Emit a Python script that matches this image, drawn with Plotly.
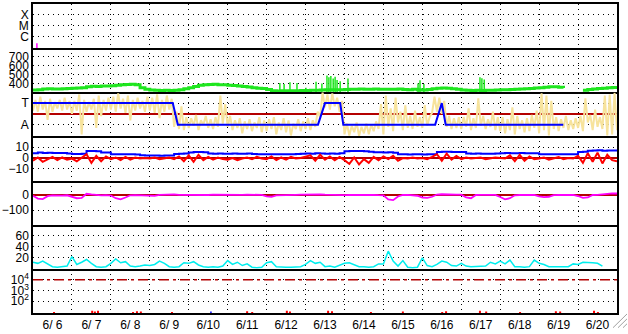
import plotly.graph_objects as go
from plotly.subplots import make_subplots

# ---------------- data ----------------
N_DAYS = 15
STEP_H = 3                      # sample spacing of the series, hours
day_labels = ["6/ 6", "6/ 7", "6/ 8", "6/ 9", "6/10", "6/11", "6/12", "6/13",
              "6/14", "6/15", "6/16", "6/17", "6/18", "6/19", "6/20"]

# X-ray flare events (day, peak flux W/m2)
flare_t = [0.10]
flare_flux = [2.3e-7]
flare_levels = [1e-6, 1e-5, 1e-4]
flare_names = ["C", "M", "X"]

# solar wind speed (km/s), every 3 h
speed = [325, 330, 338, 340, 336, 338, 340, 342,
         345, 348, 352, 362, 368, 366, 370, 372,
         375, 380, 386, 388, 390, 384, 352, 335,
         325, 322, 320, 322, 320, 324, 330, 340,
         352, 366, 380, 386, 388, 390, 386, 384,
         380, 376, 372, 366, 360, 352, 346, 342,
         332, 318, 315, 316, 318, 318, 316, 320,
         320, 322, 324, 326, 328, 330, 330, 330,
         332, 334, 335, 336, 333, 335, 336, 334,
         334, 335, 333, 336, 332, 330, 333, 330,
         326, 332, 340, 346, 348, 346, 340, 334,
         326, 322, 320, 322, 320, 322, 324, 326,
         328, 330, 332, 334, 336, 340, 344, 348,
         352, 358, 364, 362, 356, 348, None, None,
         None, 324, 332, 338, 342, 346, 350, 354,
         358]
speed_spike_t = [6.34, 6.45, 6.60, 6.78, 7.01, 7.27, 7.42, 7.55, 7.60, 7.65, 7.71,
                 7.76, 7.81, 7.89, 8.09, 9.89, 9.94, 10.04, 11.48, 11.53, 11.59]
speed_spike_v = [405, 395, 415, 405, 350, 418, 400, 489, 470, 485, 455,
                 475, 440, 425, 455, 400, 435, 395, 470, 460, 445]
speed_ticks = [400, 500, 600, 700]

# magnetic sector / polarity scatter (low, high per 3 h), T = 1, A = -1
pol_lo = [0.3, 0.2, 0.4, -0.55, 0.2, 0.5, 0.3, 0.4,
          0.0, 0.3, -1.9, 0.2, 0.4, -1.3, -0.2, 0.3,
          0.4, 0.2, 0.5, 0.1, -0.6, 0.3, 0.5, 0.2,
          0.3, 0.1, -0.4, 0.2, 0.4, -1.2, -1.4, -1.5,
          -1.3, -1.1, -1.5, -1.0, -1.3, -1.4, -1.2, -0.9,
          -1.2, -1.5, -1.3, -1.8, -1.4, -1.6, -1.3, -1.7,
          -1.6, -1.4, -1.9, -1.5, -1.7, -2.0, -1.4, -1.6,
          -1.4, -1.5, -1.2, -0.3, 0.6, 0.4, 0.7, 0.2,
          -1.9, -2.0, -1.7, -2.05, -1.8, -1.9, -1.6, -1.4,
          -1.9, -1.2, -1.6, -0.8, -1.5, -1.3, -1.4, -1.2,
          -1.3, -1.1, 0.1, 0.2, 0.0, -1.2, -1.4, -1.3,
          -1.4, -1.2, -1.5, -1.3, -1.1, -1.4, -1.2, -1.5,
          -1.6, -1.8, -1.5, -1.9, -1.4, -1.7, -1.6, -1.3,
          -1.8, -1.5, -2.0, -1.4, -1.6, -1.3, -1.5, -1.4,
          -1.3, -1.6, -0.8, -1.5, -1.2, -1.4, -2.0, -1.9,
          -1.5]
pol_hi = [1.3, 1.6, 1.2, 1.4, 1.1, 1.3, 1.5, 1.2,
          1.2, 1.8, 1.3, 1.1, 1.4, 1.7, 1.3, 1.5,
          1.6, 1.9, 1.4, 1.7, 1.3, 1.5, 1.2, 1.6,
          1.5, 1.8, 1.3, 1.7, 1.4, 0.2, 0.7, -0.3,
          -0.4, -0.1, -0.6, -0.2, -0.5, -0.3, 1.7, 0.9,
          -0.2, -0.6, -0.4, -0.7, -0.5, -0.8, -0.3, -0.6,
          -0.5, -0.3, -0.8, -0.4, -0.6, -0.9, -0.5, -0.7,
          -0.4, -0.6, 0.2, 2.0, 1.8, 1.9, 1.5, 1.2,
          -0.9, -1.1, -0.8, -1.2, -0.9, -1.0, -0.7, 0.9,
          1.7, 0.5, 1.5, 0.2, 0.8, -0.2, 0.3, -0.3,
          0.8, -0.3, 1.6, 1.5, 1.2, -0.2, -0.4, -0.3,
          -0.3, 0.5, -0.4, 1.45, -0.2, -0.5, 0.2, -0.3,
          -0.3, -0.5, 0.6, -0.2, -0.6, -0.4, -0.1, 0.3,
          1.9, 1.7, 1.2, -0.3, -0.5, -0.2, -0.6, -0.4,
          -0.2, 1.45, -0.1, 0.4, -0.3, 1.7, 1.8, 1.95,
          2.0]
# sector status line (day, value)
sector_t = [0.0, 3.59, 3.72, 7.32, 7.50, 7.89, 7.97, 10.33, 10.50, 10.60, 13.62]
sector_v = [1, 1, -1, -1, 1, 1, -1, -1, 1, -1, -1]
sector_names = ["A", "T"]
sector_ticks = [-1, 1]

# IMF Bt and Bz (nT), every 3 h
bt = [4.5, 5.0, 4.7, 4.8, 4.7, 4.7, 4.7, 4.2,
      3.8, 3.7, 4.0, 6.4, 6.6, 6.2, 5.2, 5.0,
      3.6, 3.5, 3.4, 3.5, 3.4, 3.3, 2.5, 2.3,
      2.4, 2.3, 2.2, 2.4, 2.3, 3.8, 4.0, 4.2,
      5.2, 5.6, 5.5, 5.4, 4.2, 4.0, 4.1, 4.0,
      4.0, 4.1, 3.9, 4.0, 4.2, 3.8, 3.6, 3.5,
      3.5, 3.4, 3.6, 3.5, 3.4, 3.6, 3.8, 4.0,
      4.2, 4.0, 4.3, 4.2, 4.0, 4.1, 4.0, 4.3,
      6.2, 6.5, 6.4, 6.6, 6.3, 5.8, 5.3, 5.4,
      5.2, 5.3, 4.8, 3.5, 3.4, 3.3, 3.4, 3.5,
      3.3, 3.4, 3.5, 5.6, 5.8, 5.7, 5.5, 5.6,
      5.5, 4.2, 4.0, 4.1, 4.0, 3.9, 4.0, 4.2,
      4.5, 4.6, 4.4, 4.5, 4.6, 4.4, 4.5, 4.4,
      3.5, 3.4, 3.6, 3.5, 3.4, 3.5, 3.6, 3.5,
      5.6, 5.8, 6.8, 7.0, 7.2, 6.8, 7.0, 6.9,
      6.8]
bz = [-2.5, 0.5, -3.5, -1.0, 1.0, -2.0, 0.5, -1.5,
      -0.5, -3.0, 0.0, 3.5, -4.5, 2.0, -3.0, 1.5,
      -1.0, 0.5, -2.0, 1.0, -1.5, 0.5, -0.5, 0.0,
      -0.5, 0.5, -1.0, 0.0, 0.5, -1.0, 1.5, -3.0,
      2.5, -3.5, 3.0, -2.0, 1.0, -1.5, 0.5, -1.0,
      -1.5, 0.0, -2.0, -0.5, 0.5, -1.0, 1.0, -0.5,
      -1.0, 1.5, -2.0, 0.5, -1.5, 1.0, -0.5, 0.0,
      1.0, 2.5, -2.5, 3.0, -1.5, 1.5, -2.0, 1.0,
      -2.0, -5.5, 0.5, -6.0, -1.0, -4.5, 1.0, -2.0,
      1.5, -1.0, 2.0, -2.5, 0.0, -0.5, 0.5, -0.5,
      0.0, -1.0, 1.0, 3.5, -2.5, 4.0, -1.5, 2.0,
      -1.0, 0.5, -0.5, 0.0, 0.5, -1.0, 0.0, 0.5,
      0.0, -0.5, 2.5, -3.0, 3.0, -2.5, 1.5, -1.0,
      -0.5, 0.5, -1.5, 0.0, 1.0, -1.0, 0.0, -0.5,
      2.0, -4.5, 4.5, -3.5, 5.0, -5.0, 3.0, -2.0,
      -3.0]
b_ticks = [-10, 0, 10]

# Dst index (nT), every 3 h
dst = [-3, -22, -26, -6, 0, -2, -2, 0,
       -8, -20, -18, 10, 6, 2, 0, 1,
       -2, -20, -27, -15, 0, 1, 0, 0,
       -5, -4, 3, 5, 7, 6, 3, 2,
       2, 3, 4, 3, 2, 4, 3, 2,
       3, 2, 1, 3, 4, 2, 1, 3,
       -8, -10, 0, 2, 3, 2, 3, 4,
       5, 3, 8, 6, 4, 2, 3, 2,
       1, 2, 0, 3, 2, 4, 3, 1,
       0, -28, -33, -8, 2, 3, 2, -3,
       -15, -18, -10, 5, 7, 8, 6, 5,
       4, -15, -20, 2, 3, 3, 2, 3,
       -12, -27, -20, 0, 2, 2, 1, 2,
       -8, -13, -10, 1, 2, 2, 1, 2,
       -5, -18, -15, 2, 3, 8, 12, 13,
       12]
dst_ticks = [-100, 0]

# Ap-like activity index, every 3 h
ap = [12, 10, 14, 9, 4, 3, 4, 5,
      22, 8, 12, 17, 10, 4, 3, 4,
      10, 18, 11, 13, 5, 4, 5, 7,
      6, 8, 14, 10, 4, 3, 4, 11,
      10, 13, 7, 4, 3, 4, 3, 5,
      15, 8, 12, 6, 9, 3, 2, 3,
      11, 13, 4, 3, 3, 3, 3, 4,
      8, 15, 10, 12, 4, 5, 3, 6,
      10, 11, 8, 4, 4, 3, 4, 9,
      9, 32, 14, 5, 15, 3, 2, 3,
      20, 6, 4, 8, 14, 12, 6, 5,
      10, 5, 4, 4, 4, 5, 12, 9,
      14, 9, 16, 4, 4, 3, 4, 16,
      10, 8, 4, 4, 3, 4, 4, 9,
      8, 12, 12, 11, 10, 5, None, None,
      None]
ap_ticks = [20, 40, 60]

# high-energy particle flux (log panel)
pfu_t = [0.54, 1.52, 1.59, 1.67, 2.57, 2.67, 2.77, 3.57, 5.50, 5.63, 6.52, 6.60,
         7.58, 7.68, 8.68, 9.50, 10.51, 10.61, 11.48, 11.64, 12.51, 13.43, 13.54,
         14.41, 14.51]
pfu_v = [10, 13, 11, 13, 10, 12, 11, 10, 12, 10, 13, 11,
         13, 12, 10, 11, 10, 12, 13, 11, 10, 12, 11, 13, 10]
pfu_blue_t = [4.57]
pfu_blue_v = [11]
pfu_threshold = 1e4
pfu_ticks = [1e2, 1e3, 1e4]
pfu_names = ["10<sup>2</sup>", "10<sup>3</sup>", "10<sup>4</sup>"]

# ---------------- build ----------------
dt = STEP_H / 24.0
t = [i * dt for i in range(len(speed))]

GREEN = "#1EE61E"
YELLOW = "#F7E39C"
DARKRED = "#B40000"
FONT = "Liberation Sans, Arial, sans-serif"

fig = make_subplots(rows=7, cols=1, shared_xaxes=True, vertical_spacing=0)

# 1 flares
fx, fy = [], []
for ti, fv in zip(flare_t, flare_flux):
    fx += [ti, ti, None]
    fy += [1e-8, fv, None]
fig.add_trace(go.Scatter(x=fx, y=fy, mode="lines", line=dict(color="#FF00FF", width=1.5)), row=1, col=1)

# 2 speed
sx, sy = [], []
for ti, v in zip(speed_spike_t, speed_spike_v):
    sx += [ti, ti, None]
    sy += [300, v, None]
fig.add_trace(go.Scatter(x=sx, y=sy, mode="lines", line=dict(color=GREEN, width=1.5)), row=2, col=1)
fig.add_trace(go.Scatter(x=t, y=speed, mode="lines", line=dict(color=GREEN, width=3, shape="hv")), row=2, col=1)

# 3 polarity
px, py = [], []
for ti, lo, hi in zip(t, pol_lo, pol_hi):
    px += [ti, ti + dt / 2]
    py += [lo, hi]
fig.add_trace(go.Scatter(x=px, y=py, mode="lines", line=dict(color=YELLOW, width=2)), row=3, col=1)
fig.add_trace(go.Scatter(x=sector_t, y=sector_v, mode="lines", line=dict(color="#0000FF", width=2)), row=3, col=1)

# 4 IMF
fig.add_trace(go.Scatter(x=t, y=bt, mode="lines", line=dict(color="#0000FF", width=2, shape="hv")), row=4, col=1)
fig.add_trace(go.Scatter(x=t, y=bz, mode="lines", line=dict(color="#FF0000", width=2)), row=4, col=1)

# 5 Dst
fig.add_trace(go.Scatter(x=t, y=dst, mode="lines", line=dict(color="#FF00FF", width=1.8)), row=5, col=1)

# 6 Ap
fig.add_trace(go.Scatter(x=t, y=ap, mode="lines", line=dict(color="#00EEEE", width=1.5)), row=6, col=1)

# 7 particles
fig.add_trace(go.Scatter(x=[0, N_DAYS], y=[pfu_threshold, pfu_threshold], mode="lines",
                         line=dict(color=DARKRED, width=1.5, dash="10px,4px,3px,4px")), row=7, col=1)
rx, ry = [], []
for ti, v in zip(pfu_t, pfu_v):
    rx += [ti, ti, None]
    ry += [1, v, None]
fig.add_trace(go.Scatter(x=rx, y=ry, mode="lines", line=dict(color="#FF0000", width=2)), row=7, col=1)
bx, by = [], []
for ti, v in zip(pfu_blue_t, pfu_blue_v):
    bx += [ti, ti, None]
    by += [1, v, None]
fig.add_trace(go.Scatter(x=bx, y=by, mode="lines", line=dict(color="#0000FF", width=1.5)), row=7, col=1)

# ---------------- axes ----------------
grid = dict(showgrid=True, gridcolor="black", gridwidth=1, griddash="1px,4px")
mid = [i + 0.5 for i in range(N_DAYS)]
bounds = list(range(1, N_DAYS))

for r in range(1, 8):
    fig.update_xaxes(range=[0, N_DAYS], tickvals=mid, ticktext=day_labels,
                     showgrid=False, zeroline=False, ticks="",
                     showline=True, mirror=(r == 1), linecolor="black", linewidth=1.5,
                     minor=dict(tickvals=bounds, showgrid=True, gridcolor="black",
                                gridwidth=1, griddash="1px,4px", ticks=""),
                     showticklabels=(r == 7), tickfont=dict(size=12, color="black", family=FONT),
                     row=r, col=1)

yframe = dict(showline=True, mirror=True, linecolor="black", linewidth=1.5, ticks="")
yfont = dict(size=12, color="black", family=FONT)
fig.update_yaxes(type="log", range=[-7.09, -3], tickvals=flare_levels, ticktext=flare_names,
                 zeroline=False, tickfont=yfont, row=1, col=1, **grid, **yframe)
fig.update_yaxes(range=[300, 800], tickvals=speed_ticks, zeroline=False,
                 tickfont=yfont, row=2, col=1, **grid, **yframe)
fig.update_yaxes(range=[-2.09, 2], tickvals=sector_ticks, ticktext=sector_names,
                 zeroline=True, zerolinecolor=DARKRED, zerolinewidth=1.5,
                 tickfont=yfont, row=3, col=1, **grid, **yframe)
fig.update_yaxes(range=[-20.9, 20], tickvals=b_ticks, zeroline=True, zerolinecolor=DARKRED,
                 zerolinewidth=1.5, tickfont=yfont, row=4, col=1, **grid, **yframe)
fig.update_yaxes(range=[-200, 100], tickvals=dst_ticks, zeroline=True, zerolinecolor=DARKRED,
                 zerolinewidth=1.5, tickfont=yfont, row=5, col=1, **grid, **yframe)
fig.update_yaxes(range=[0, 80], tickvals=ap_ticks, zeroline=False,
                 tickfont=yfont, row=6, col=1, **grid, **yframe)
fig.update_yaxes(type="log", range=[0.909, 5], tickvals=pfu_ticks, ticktext=pfu_names,
                 zeroline=False, tickfont=yfont, row=7, col=1, **grid, **yframe)

# window resize grip (decoration)
grip = []
for k in range(3):
    grip.append(dict(type="line", xref="paper", yref="paper",
                     x0=(627 - 33) / 584, y0=-(1 + 5 * k) / 315,
                     x1=(627 - 33 - 14 + 5 * k) / 584, y1=-(15) / 315,
                     line=dict(color="#A0A0A0", width=1)))

fig.update_layout(width=628, height=334, margin=dict(l=33, r=11, t=2, b=17),
                  paper_bgcolor="white", plot_bgcolor="white", showlegend=False,
                  font=dict(family=FONT, size=12, color="black"), shapes=grip)

fig.write_html("out.html")
